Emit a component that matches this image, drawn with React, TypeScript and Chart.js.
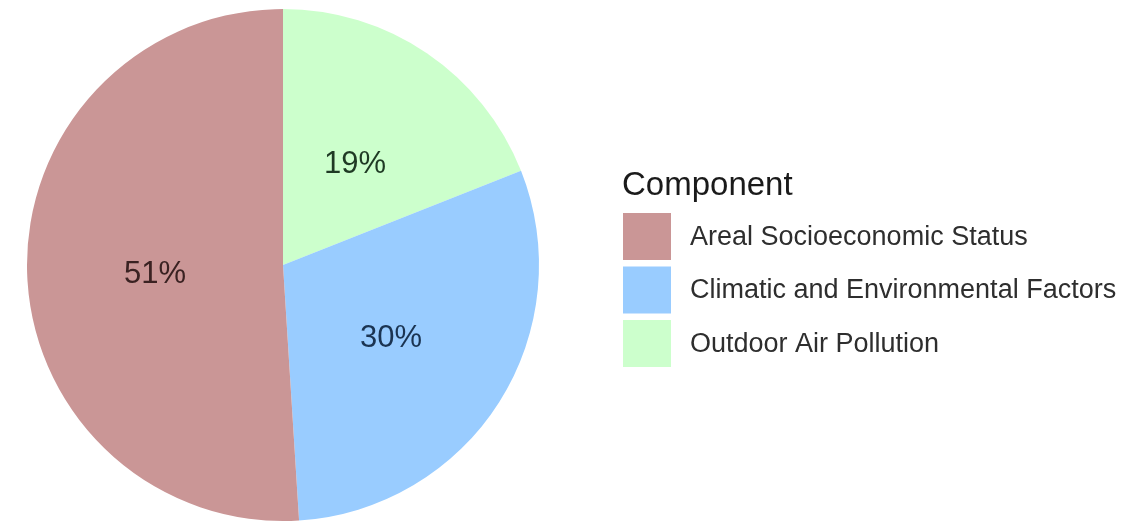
import React, { useEffect, useRef } from "react";
import { Chart, registerables } from "chart.js";

Chart.register(...registerables);

// Data (clockwise from 12 o'clock)
const categories = ["Outdoor Air Pollution", "Climatic and Environmental Factors", "Areal Socioeconomic Status"];
const shares = [19, 30, 51];
const sliceColors = ["#CCFFCC", "#99CCFF", "#CA9696"];
const labelColors = ["#1f3a24", "#1b3452", "#3a2222"];
const legendTitle = "Component";
// Legend order (top to bottom)
const legendOrder = ["Areal Socioeconomic Status", "Climatic and Environmental Factors", "Outdoor Air Pollution"];

const FONT = "'Liberation Sans', Arial, Helvetica, sans-serif";

const labelPlugin = {
  id: "sliceLabels",
  afterDatasetsDraw(chart: any) {
    const ctx = chart.ctx;
    const meta = chart.getDatasetMeta(0);
    ctx.save();
    ctx.font = `31px ${FONT}`;
    ctx.textAlign = "center";
    ctx.textBaseline = "middle";
    meta.data.forEach((arc: any, i: number) => {
      const p = arc.tooltipPosition();
      ctx.fillStyle = labelColors[i];
      ctx.fillText(`${shares[i]}%`, p.x, p.y + 5);
    });
    ctx.restore();
  },
};

const legendPlugin = {
  id: "customLegend",
  afterDraw(chart: any) {
    const ctx = chart.ctx;
    const x0 = 622;
    ctx.save();
    ctx.fillStyle = "#1a1a1a";
    ctx.font = `33px ${FONT}`;
    ctx.textAlign = "left";
    ctx.textBaseline = "alphabetic";
    ctx.fillText(legendTitle, x0, 195);
    const boxW = 48;
    const boxH = 47;
    const pitch = 53.5;
    const top = 213;
    legendOrder.forEach((name, k) => {
      const i = categories.indexOf(name);
      const y = top + k * pitch;
      ctx.fillStyle = sliceColors[i];
      ctx.fillRect(x0 + 1, y, boxW, boxH);
      ctx.fillStyle = "#2e2e2e";
      ctx.font = `27px ${FONT}`;
      ctx.textBaseline = "middle";
      ctx.fillText(name, 690, y + boxH / 2 + 1);
    });
    ctx.restore();
  },
};

export default function App() {
  const ref = useRef<HTMLCanvasElement | null>(null);
  useEffect(() => {
    document.body.style.margin = "0";
    const chart = new Chart(ref.current as HTMLCanvasElement, {
      type: "pie",
      data: {
        labels: categories,
        datasets: [
          {
            data: shares,
            backgroundColor: sliceColors,
            borderWidth: 0,
          },
        ],
      },
      options: {
        responsive: false,
        animation: false,
        layout: { padding: { left: 27, right: 585, top: 9, bottom: 1 } },
        plugins: {
          legend: { display: false },
          tooltip: { enabled: false },
        },
      },
      plugins: [labelPlugin, legendPlugin],
    });
    return () => chart.destroy();
  }, []);
  return (
    <div style={{ position: "absolute", left: 0, top: 0, width: 1124, height: 522, background: "#ffffff" }}>
      <canvas ref={ref} width={1124} height={522} style={{ display: "block" }} />
    </div>
  );
}
